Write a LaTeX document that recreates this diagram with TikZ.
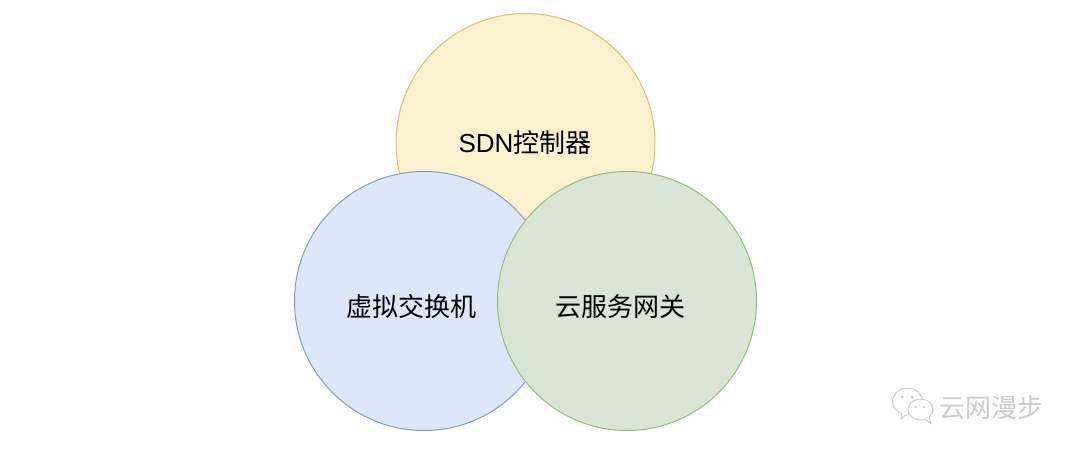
\documentclass[tikz,border=0pt]{standalone}
\usepackage{fontspec}
\setmainfont{Liberation Sans}
\newfontfamily\cjk{Noto Sans CJK SC}
\definecolor{yfill}{HTML}{FCF1CF}
\definecolor{ydraw}{HTML}{DDC06C}
\definecolor{bfill}{HTML}{DDE7FA}
\definecolor{bdraw}{HTML}{7F9CC8}
\definecolor{gfill}{HTML}{D9E6D6}
\definecolor{gdraw}{HTML}{93BC7C}
\definecolor{wm}{HTML}{CBCBCB}
\tikzset{
  venn/.style={circle,minimum size=259pt,inner sep=0pt,line width=1pt},
  lbl/.style={inner sep=0pt,text=black,font=\fontsize{26pt}{28pt}\selectfont},
  wmline/.style={draw=wm,line width=1pt,fill=white,line join=round},
  wmtext/.style={inner sep=0pt,text=wm,font=\cjk\fontsize{26pt}{28pt}\selectfont},
  wmdot/.style={fill=wm,draw=none}
}
\begin{document}
\begin{tikzpicture}[x=1pt,y=-1pt]
\useasboundingbox[fill=white] (0,0) rectangle (1080,455);
\node[venn,fill=yfill,draw=ydraw] (ctrl) at (525.5,143) {};
\node[venn,fill=bfill,draw=bdraw] (vsw) at (424,301) {};
\node[venn,fill=gfill,draw=gdraw] (gw) at (627,301) {};
\node[lbl] (ctrltxt) at (525,143) {SDN{\cjk 控制器}};
\node[lbl] (vswtxt) at (411.5,307) {\cjk 虚拟交换机};
\node[lbl] (gwtxt) at (620,307) {\cjk 云服务网关};
% watermark
\path[wmline] (901,419) -- (901.5,413.5) .. controls (896,411.5) and (892.5,407) .. (892.5,401.5)
  .. controls (892.5,394) and (899,388) .. (907.5,388)
  .. controls (916,388) and (922.5,394) .. (922.5,401.5)
  .. controls (922.5,409) and (916,415) .. (907.5,415)
  .. controls (906.5,415) and (906,415) .. (905.5,415) -- cycle;
\path[wmline] (931,424) -- (925.5,419.5) .. controls (924,420) and (922,420) .. (920.5,420)
  .. controls (913.5,420) and (908,415.3) .. (908,409.5)
  .. controls (908,403.7) and (913.5,399) .. (920.5,399)
  .. controls (927.5,399) and (933,403.7) .. (933,409.5)
  .. controls (933,412.5) and (931.5,415.3) .. (929,417.3) -- cycle;
\fill[wmdot] (902,397) circle (1.5pt);
\fill[wmdot] (912,397) circle (1.5pt);
\fill[wmdot] (916,407) circle (1.2pt);
\fill[wmdot] (924,407) circle (1.2pt);
\node[wmtext] (wmark) at (991.5,408) {云网漫步};
\end{tikzpicture}
\end{document}
